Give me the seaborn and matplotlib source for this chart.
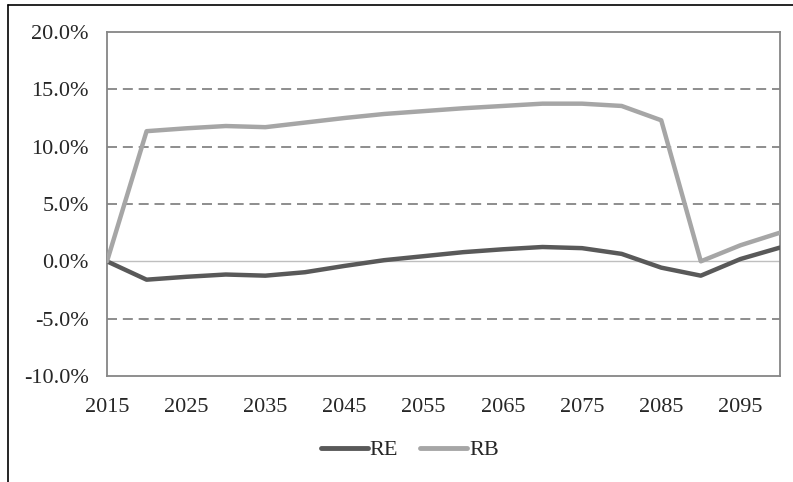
import numpy as np
import pandas as pd
import matplotlib
matplotlib.use('Agg')
import matplotlib.pyplot as plt
from matplotlib.lines import Line2D
from matplotlib.ticker import FuncFormatter
import seaborn as sns

# 데이터 (그림에서 읽은 값, %)
years = list(range(2015, 2101, 5))
re_vals = [0.0, -1.6, -1.35, -1.15, -1.25, -0.95, -0.4, 0.1, 0.45, 0.8,
           1.05, 1.25, 1.15, 0.65, -0.55, -1.25, 0.2, 1.2]
rb_vals = [0.0, 11.35, 11.6, 11.8, 11.7, 12.1, 12.5, 12.85, 13.1, 13.35,
           13.55, 13.75, 13.75, 13.55, 12.3, 0.0, 1.4, 2.5]
series_names = ['RE', 'RB']
series_colors = ['#595959', '#A6A6A6']
y_ticks = [-10, -5, 0, 5, 10, 15, 20]
x_ticks = list(range(2015, 2100, 10))

df = pd.DataFrame({
    'year': years * 2,
    'value': re_vals + rb_vals,
    'series': ['RE'] * len(years) + ['RB'] * len(years),
})

sns.set_style('white')
plt.rcParams['font.family'] = ['Liberation Serif', 'DejaVu Serif']
FS = 16

fig = plt.figure(figsize=(7.93, 4.82), dpi=100)
ax = fig.add_axes([107 / 793, 1 - 376 / 482, (780 - 107) / 793, (376 - 32) / 482])

# 격자선
for yv in y_ticks:
    if yv in (-10, 20):
        continue
    if yv == 0:
        ax.axhline(0, color='#BFBFBF', lw=1.0, zorder=1)
    else:
        ax.axhline(yv, color='#7A7A7A', lw=1.2, linestyle=(0, (6, 3.5)), zorder=1)

sns.lineplot(data=df, x='year', y='value', hue='series', hue_order=series_names,
             palette=series_colors, linewidth=3.2, ax=ax, legend=False, zorder=3,
             sort=False)

ax.set_xlim(2015, 2100)
ax.set_ylim(-10, 20)
ax.set_xticks(x_ticks)
ax.set_yticks(y_ticks)
ax.yaxis.set_major_formatter(FuncFormatter(lambda v, p: f'{v:.1f}%'))
ax.tick_params(axis='both', length=0, labelsize=FS)
ax.tick_params(axis='x', pad=16)
ax.tick_params(axis='y', pad=13)
ax.set_xlabel('')
ax.set_ylabel('')
for sp in ax.spines.values():
    sp.set_visible(True)
    sp.set_color('#868686')
    sp.set_linewidth(1.3)

handles = [Line2D([0], [0], color=c, lw=3.5) for c in series_colors]
fig.legend(handles, series_names, loc='center', bbox_to_anchor=(410 / 793, 1 - 450 / 482),
           ncol=2, frameon=False, handlelength=2.1, handletextpad=0.1,
           columnspacing=1.0, fontsize=FS)

# 바깥 테두리 (왼쪽, 위쪽)
fig.add_artist(Line2D([8 / 793, 8 / 793], [0, 1 - 5 / 482], color='black', lw=1.2,
                      transform=fig.transFigure))
fig.add_artist(Line2D([8 / 793, 1], [1 - 5 / 482, 1 - 5 / 482], color='black', lw=1.2,
                      transform=fig.transFigure))

fig.savefig('out.png', dpi=100)
